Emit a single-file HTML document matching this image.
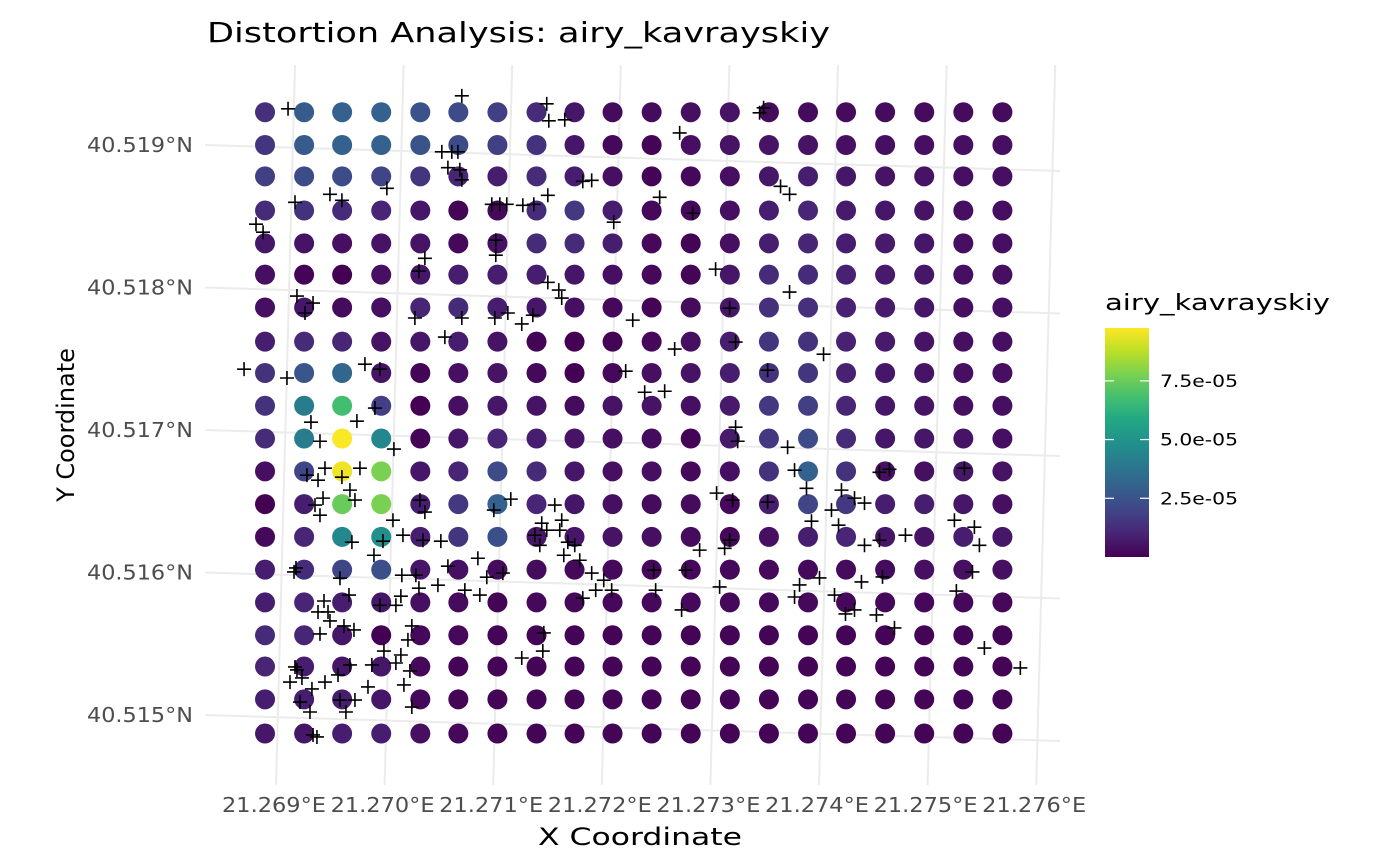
<!DOCTYPE html>
<html><head><meta charset="utf-8"><style>
body{margin:0;background:#fff;}
svg{display:block;font-family:"DejaVu Sans","Liberation Sans",sans-serif;}
</style></head><body>
<svg id="chart" width="1400" height="866" viewBox="0 0 1400 866">
<text x="207" y="42" font-size="28" textLength="623" lengthAdjust="spacingAndGlyphs" fill="#000">Distortion Analysis: airy_kavrayskiy</text>
<g id="grid"></g>
<g id="points"></g>
<g id="crosses"></g>
<g id="axes"></g>
<text x="538" y="845" font-size="24" textLength="204" lengthAdjust="spacingAndGlyphs" fill="#000">X Coordinate</text>
<text transform="translate(74,425) rotate(-90)" font-size="24" text-anchor="middle" fill="#000">Y Coordinate</text>
<g id="legend">
<text x="1105" y="310" font-size="22" textLength="225" lengthAdjust="spacingAndGlyphs" fill="#000">airy_kavrayskiy</text>
<defs><linearGradient id="vir" x1="0" y1="1" x2="0" y2="0">
<stop offset="0" stop-color="#440154"/><stop offset="0.1" stop-color="#482475"/><stop offset="0.2" stop-color="#414487"/><stop offset="0.3" stop-color="#355f8d"/><stop offset="0.4" stop-color="#2a788e"/><stop offset="0.5" stop-color="#21918c"/><stop offset="0.6" stop-color="#22a884"/><stop offset="0.7" stop-color="#44bf70"/><stop offset="0.8" stop-color="#7ad151"/><stop offset="0.9" stop-color="#bddf26"/><stop offset="1" stop-color="#fde725"/>
</linearGradient></defs>
<rect x="1105" y="328" width="44" height="229" fill="url(#vir)"/>
</g>
</svg>
<script>
const gridLon=[21.26877,21.26913,21.26948,21.26984,21.27020,21.27055,21.27091,21.27127,21.27162,21.27197,21.27233,21.27269,21.27305,21.27341,21.27377,21.27412,21.27448,21.27484,21.27520,21.27556];
const gridLat=[40.51923,40.51900,40.51878,40.51854,40.51831,40.51809,40.51786,40.51762,40.51740,40.51717,40.51694,40.51671,40.51648,40.51625,40.51602,40.51579,40.51556,40.51534,40.51511,40.51487];
// distortion values in units of 1e-5, rows top->bottom
const distortion=[
[1.3,2.8,3.0,3.0,2.5,2.2,1.8,1.2,0.6,0.3,0.3,0.4,0.5,0.3,0.3,0.3,0.3,0.3,0.3,0.3],
[1.5,2.8,3.0,3.0,2.5,2.2,1.8,1.4,0.6,0.2,0.1,0.4,0.5,0.5,0.5,0.4,0.4,0.4,0.4,0.4],
[1.8,2.2,2.2,2.0,1.5,1.0,0.8,1.2,0.8,0.4,0.1,0.2,0.4,0.6,0.8,0.6,0.5,0.5,0.4,0.4],
[1.2,1.4,1.2,1.0,0.6,0.1,0.2,1.2,1.6,0.8,0.2,0.2,0.4,0.8,1.0,0.7,0.6,0.5,0.4,0.4],
[0.6,0.5,0.4,0.5,0.5,0.2,0.4,1.2,1.2,0.8,0.2,0.1,0.4,0.8,1.0,0.8,0.7,0.6,0.4,0.4],
[0.4,0.1,0.0,0.4,0.6,0.8,0.8,0.8,0.6,0.4,0.2,0.1,0.6,1.2,1.2,0.9,0.7,0.6,0.4,0.4],
[0.4,0.6,0.3,0.4,1.0,1.2,0.8,0.6,0.4,0.2,0.1,0.3,0.6,1.3,1.3,0.9,0.7,0.6,0.4,0.4],
[0.8,1.2,1.0,0.5,0.6,0.8,0.5,0.1,0.0,0.1,0.2,0.4,0.8,1.5,1.4,0.9,0.7,0.5,0.4,0.4],
[1.4,2.6,3.2,0.5,0.1,0.4,0.5,0.2,0.0,0.2,0.4,0.5,0.8,1.4,1.5,0.9,0.6,0.5,0.4,0.4],
[1.4,4.0,6.8,1.8,0.0,0.4,0.6,0.5,0.3,0.5,0.5,0.4,0.7,1.6,1.8,1.0,0.6,0.5,0.4,0.4],
[1.2,4.0,9.7,4.5,0.1,0.6,1.0,0.8,0.5,0.4,0.3,0.1,0.7,1.6,2.2,1.2,0.6,0.6,0.5,0.4],
[0.4,2.0,9.5,7.8,0.6,1.0,2.2,1.2,0.6,0.4,0.4,0.2,0.4,1.4,3.0,1.4,0.4,0.4,0.6,0.5],
[0.0,0.8,7.5,7.8,0.8,1.6,3.0,1.0,0.6,0.4,0.3,0.3,0.2,0.8,2.0,1.6,0.8,0.8,0.6,0.4],
[0.2,1.0,4.5,4.8,0.8,1.5,2.4,0.6,0.6,0.5,0.4,0.3,0.2,0.4,0.8,1.0,0.6,0.5,0.8,0.6],
[0.8,1.2,2.0,2.4,0.6,0.4,0.3,0.3,0.2,0.2,0.2,0.2,0.2,0.2,0.2,0.3,0.3,0.4,0.4,0.4],
[0.8,1.0,0.8,0.6,0.4,0.3,0.1,0.2,0.2,0.2,0.2,0.2,0.2,0.2,0.2,0.2,0.2,0.2,0.2,0.2],
[1.2,1.0,0.6,0.0,0.2,0.2,0.1,0.1,0.1,0.1,0.1,0.1,0.1,0.1,0.1,0.1,0.1,0.1,0.1,0.1],
[1.0,0.8,0.6,0.6,0.2,0.1,0.1,0.1,0.1,0.1,0.1,0.1,0.1,0.1,0.1,0.1,0.1,0.1,0.1,0.1],
[0.8,0.8,0.8,0.6,0.2,0.1,0.1,0.1,0.1,0.1,0.1,0.1,0.1,0.1,0.1,0.1,0.1,0.1,0.1,0.1],
[0.6,0.6,0.8,0.8,0.4,0.2,0.1,0.1,0.1,0.1,0.1,0.1,0.1,0.1,0.1,0.1,0.1,0.1,0.1,0.1]];
const LON0=21.269, LAT0=40.515;
// cross sample locations, micro-degree offsets from LON0/LAT0
const crossLonMicro=[-18,1582,2364,2383,2530,4324,4361,3588,1398,1490,1546,1454,1564,1582,46,368,478,892,2696,2778,3404,1858,1932,1996,2245,2374,2144,4517,4600,3708,-313,-248,1895,1895,2981,1187,1242,64,212,138,1150,2374,2475,2502,3919,4600,2236,2134,2006,1886,1582,1426,3156,4048,4103,3542,4913,-423,-28,690,828,3091,3266,3450,4398,193,276,616,782,957,4103,4122,4582,322,644,156,258,478,552,304,598,276,230,1196,1242,1224,2033,1877,2438,2318,2254,2364,2300,2484,2558,2502,2622,2521,2668,1730,1389,1454,948,1040,856,773,570,3928,4076,4398,4802,5078,5198,5290,4986,5051,5290,5428,5667,6118,6302,6348,6210,5428,5520,4756,4646,4002,4048,3772,3643,3349,2962,2889,2696,2815,2778,1960,1812,1748,1610,1362,1187,1021,828,1030,1159,460,543,313,350,368,497,589,258,276,64,110,202,322,442,552,460,598,515,184,212,248,754,865,1021,1086,975,1104,1049,1122,718,975,1122,2134,2328,2337,3606,3367,3956,4692,4646,4876,5014,5115,5198,5262,5456,5400,5566,6136,6284,6394,6725,92,0,46,37,55];
const crossLatMicro=[4254,4345,4289,4170,4177,4226,4261,4085,3952,3952,3952,3841,3826,3756,3598,3654,3612,3696,3745,3752,3633,3584,3584,3584,3584,3647,3577,3710,3654,3521,3444,3388,3332,3227,3458,3115,3205,2940,2891,2821,2786,3036,2982,2926,3129,2968,2806,2744,2821,2786,2786,2652,2771,2855,2617,2568,2532,2427,2365,2462,2427,2413,2265,2272,2420,2055,1921,2062,2154,1866,2020,1921,1879,1732,1732,1683,1648,1669,1578,1522,1508,1402,1473,1508,1424,1226,1515,1438,1473,1346,1262,1297,1191,1297,1213,1367,1191,1121,1086,1100,1220,1044,1367,1262,1220,1121,1213,1557,1508,1494,1360,1578,1522,1487,1438,1332,1191,1226,1262,1367,1318,1191,1732,1703,1724,1591,1718,1170,1227,1157,1016,1016,876,946,820,876,996,996,967,842,876,911,890,834,770,981,981,960,842,800,723,660,625,597,723,569,316,260,183,231,281,351,105,105,21,21,-140,-154,351,449,421,527,365,309,211,56,197,770,625,400,449,576,737,876,899,913,828,962,842,709,737,934,969,702,611,870,1004,470,330,91,231,337,1004,1032];
const xTicks=[21.269,21.270,21.271,21.272,21.273,21.274,21.275,21.276];
const xTickLabels=["21.269°E","21.270°E","21.271°E","21.272°E","21.273°E","21.274°E","21.275°E","21.276°E"];
const yTicks=[40.519,40.518,40.517,40.516,40.515];
const yTickLabels=["40.519°N","40.518°N","40.517°N","40.516°N","40.515°N"];
const legendTicks=[7.5,5.0,2.5];
const legendTickLabels=["7.5e-05","5.0e-05","2.5e-05"];

const NS='http://www.w3.org/2000/svg';
const xS=lon=>290+(lon-LON0)*108600;
const yS=lat=>715-(lat-LAT0)*142500;
const VMAX=9.75;
const legY=v=>557-v/VMAX*229;
const vir=["#440154","#482475","#414487","#355f8d","#2a788e","#21918c","#22a884","#44bf70","#7ad151","#bddf26","#fde725"];
function hex(c){return [1,3,5].map(i=>parseInt(c.substr(i,2),16));}
function color(v){let t=Math.max(0,Math.min(1,v/VMAX))*10;let i=Math.min(9,Math.floor(t)),f=t-i;
 const a=hex(vir[i]),b=hex(vir[i+1]);return 'rgb('+a.map((x,k)=>Math.round(x+(b[k]-x)*f)).join(',')+')';}
function mk(tag,attrs,parent){const e=document.createElementNS(NS,tag);for(const k in attrs)e.setAttribute(k,attrs[k]);parent.appendChild(e);return e;}

const grid=document.getElementById('grid');
xTicks.forEach(t=>{const x=xS(t);
 const l=mk('line',{x1:x+5,y1:65,x2:x-14,y2:785,stroke:'#ebebeb','stroke-width':2},grid);
 
 });
yTicks.forEach(t=>{const y=yS(t);
 const l=mk('line',{x1:205,y1:y,x2:1060,y2:y+26,stroke:'#ebebeb','stroke-width':2},grid);
 
 });

const pts=document.getElementById('points');
distortion.forEach((row,r)=>row.forEach((v,c)=>{
 const e=mk('circle',{cx:xS(gridLon[c]),cy:yS(gridLat[r]),r:10,fill:color(v)},pts);
 
 }));

const cr=document.getElementById('crosses');
crossLonMicro.forEach((lo,i)=>{const x=xS(LON0+lo*1e-6),y=yS(LAT0+crossLatMicro[i]*1e-6);
 const p=mk('path',{d:`M${x-7},${y}H${x+7}M${x},${y-7}V${y+7}`,stroke:'#000','stroke-width':1.6,fill:'none'},cr);
 
 });

const ax=document.getElementById('axes');
xTicks.forEach((t,i)=>{const e=mk('text',{x:xS(t)-16,y:812,'font-size':20,'text-anchor':'middle',fill:'#4d4d4d',textLength:104,lengthAdjust:'spacingAndGlyphs'},ax);
 e.textContent=xTickLabels[i];
 
 });
yTicks.forEach((t,i)=>{const e=mk('text',{x:87,y:yS(t)+7,'font-size':20,fill:'#4d4d4d',textLength:106,lengthAdjust:'spacingAndGlyphs'},ax);
 e.textContent=yTickLabels[i];
 
 });

const lg=document.getElementById('legend');
legendTicks.forEach((v,i)=>{const y=legY(v);
 const a=mk('line',{x1:1105,y1:y,x2:1114,y2:y,stroke:'#fff','stroke-width':1.2},lg);
 
 
 const b=mk('line',{x1:1140,y1:y,x2:1149,y2:y,stroke:'#fff','stroke-width':1.2},lg);
 
 
 const e=mk('text',{x:1160,y:y+6,'font-size':17,fill:'#000',textLength:78,lengthAdjust:'spacingAndGlyphs'},lg);
 e.textContent=legendTickLabels[i];
 
 });
</script>
</body></html>
